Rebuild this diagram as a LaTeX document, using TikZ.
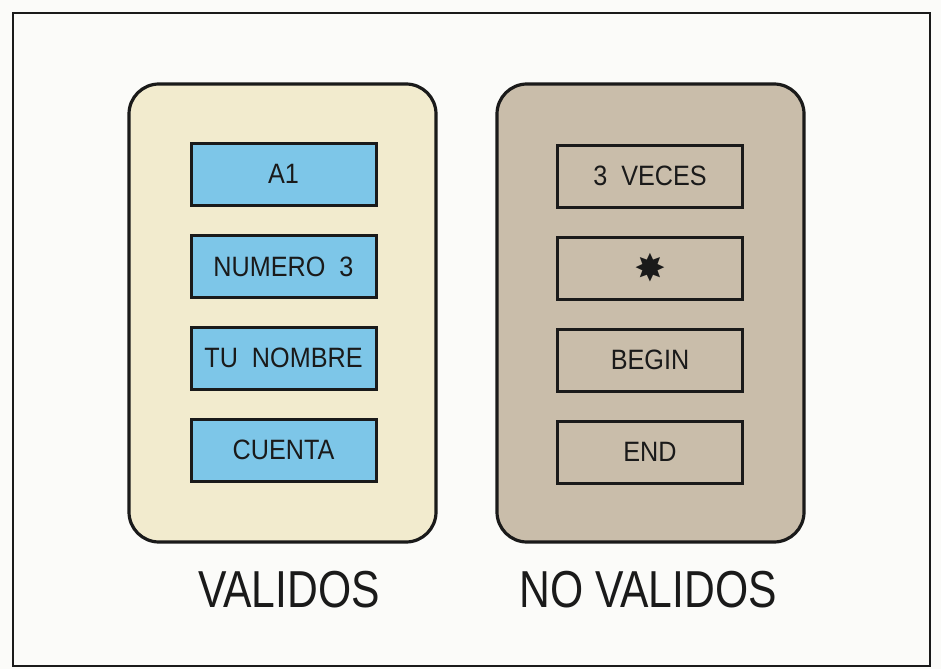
\documentclass[tikz,border=0pt]{standalone}
\usepackage{fontspec}
\setmainfont{Liberation Sans}
\newfontfamily\boxfont[FakeStretch=0.9]{Liberation Sans}
\newfontfamily\labelfont[FakeStretch=0.82]{Liberation Sans}
\newfontfamily\symfont{DejaVu Sans}
\definecolor{pagebg}{HTML}{FBFBF9}
\definecolor{creamfill}{HTML}{F2EBCE}
\definecolor{bluefill}{HTML}{7DC6E8}
\definecolor{taupefill}{HTML}{C9BDAA}
\definecolor{inkline}{HTML}{1A1A1A}
\begin{document}
\begin{tikzpicture}[x=1pt, y=-1pt,
  panel/.style={rounded corners=30pt, draw=inkline, line width=3.2pt, minimum width=307pt, minimum height=458pt, inner sep=0pt},
  idbox/.style={draw=inkline, line width=3pt, minimum width=185pt, minimum height=62pt, inner sep=0pt, font=\boxfont\fontsize{28}{32}\selectfont, text=inkline},
  title/.style={font=\labelfont\fontsize{52}{60}\selectfont, text=inkline}]
  \useasboundingbox (0,0) rectangle (941,669);
  \fill[pagebg] (0,0) rectangle (941,669);
  \draw[inkline, line width=1.5pt] (13,13) rectangle (930,666);

  % Panels
  \node (valid) at (282.5,313) [panel, fill=creamfill] {};
  \node (invalid) at (650.5,313) [panel, fill=taupefill] {};

  % Valid identifiers
  \node (a1) at (283.5,174) [idbox, fill=bluefill] {A1};
  \node (numero) at (283.5,266.5) [idbox, fill=bluefill] {NUMERO\ \ 3};
  \node (nombre) at (283.5,358) [idbox, fill=bluefill] {TU\ \ NOMBRE};
  \node (cuenta) at (283.5,450) [idbox, fill=bluefill] {CUENTA};

  % Invalid identifiers
  \node (veces) at (650,176) [idbox, fill=taupefill] {3\ \ VECES};
  \node (star) at (650,268) [idbox, fill=taupefill] {\symfont\fontsize{38}{40}\selectfont ✸};
  \node (begin) at (650,360) [idbox, fill=taupefill] {BEGIN};
  \node (end) at (650,452) [idbox, fill=taupefill] {END};

  % Captions
  \node (validlabel) at (289,590) [title] {VALIDOS};
  \node (invalidlabel) at (648,590) [title] {NO VALIDOS};
\end{tikzpicture}
\end{document}
